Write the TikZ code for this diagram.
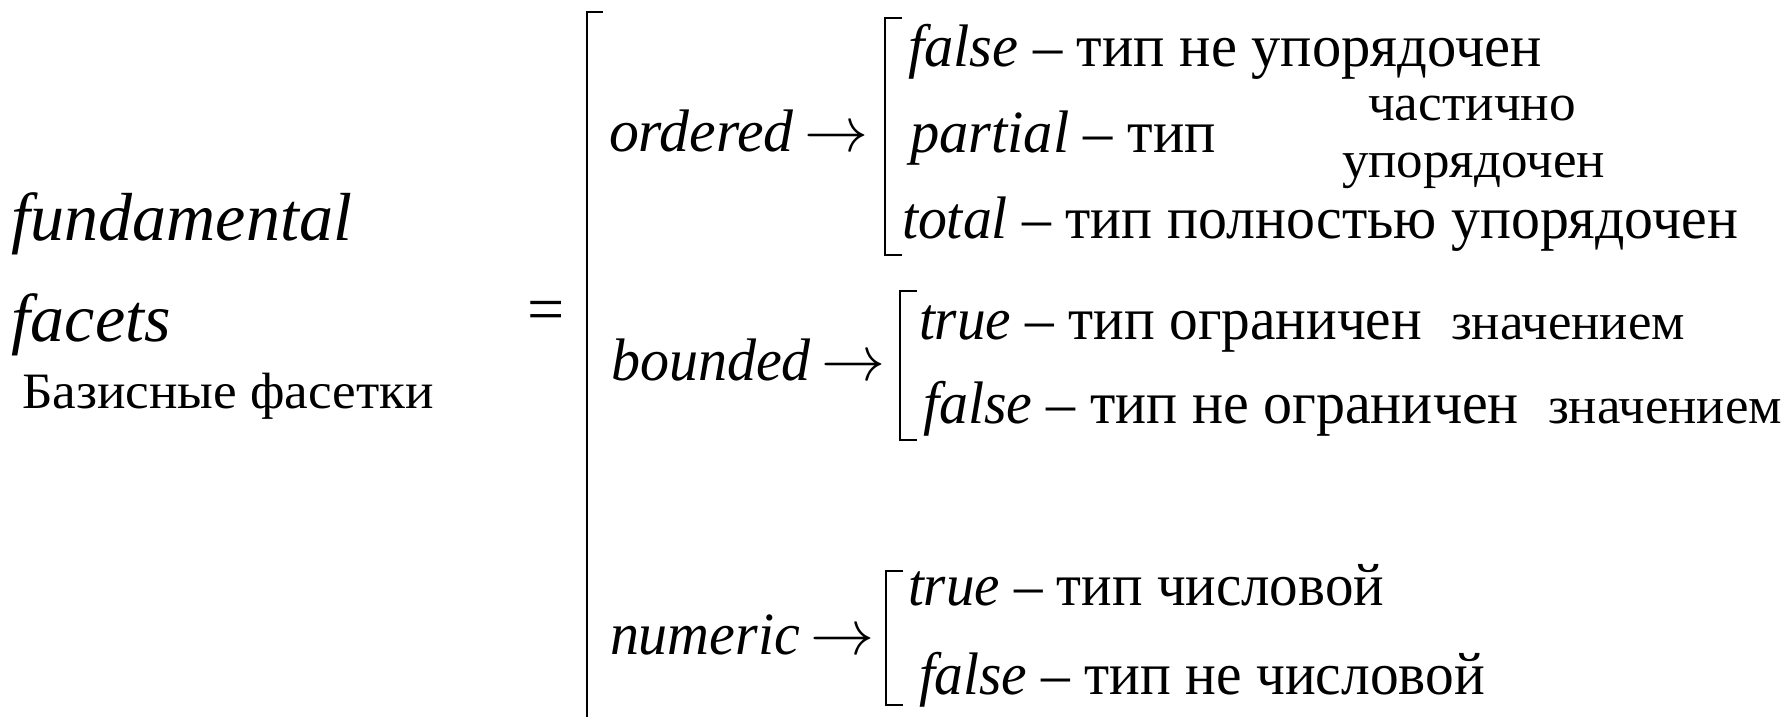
\documentclass[tikz,border=0pt]{standalone}
\usepackage{fontspec}
\setmainfont{Liberation Serif}[ItalicFont={Liberation Serif Italic}]
\usepackage{graphicx}
\newcommand{\fitw}[2]{\resizebox{#1pt}{\height}{#2}}
\newcommand{\arr}{\resizebox{64pt}{!}{$\rightarrow$}}
\begin{document}
\begin{tikzpicture}[x=1pt,y=-1pt,
  txt/.style={anchor=base west, inner sep=0pt, outer sep=0pt},
  bigit/.style={txt, font=\fontsize{68}{80}\selectfont\itshape},
  lefttx/.style={txt, font=\fontsize{51}{60}\selectfont},
  midtx/.style={txt, font=\fontsize{60}{70}\selectfont},
  righttx/.style={txt, font=\fontsize{60}{70}\selectfont},
  smalltx/.style={txt, font=\fontsize{52}{60}\selectfont},
  brk/.style={line width=2.8pt, line cap=butt, line join=miter}]
\useasboundingbox (0,0) rectangle (1791,716);
% left side
\node[bigit] (fund) at (12,240) {fundamental};
\node[bigit] (fac) at (12,341) {facets};
\node[lefttx] (baz) at (22,408) {\fitw{412}{Базисные фасетки}};
\node[anchor=center, inner sep=0pt, font=\fontsize{66}{70}\selectfont] (eq) at (546,316) {=};
% big bracket
\coordinate (BT) at (587,12);
\draw[brk] (603,12) -- (BT) -- (587,720);
% middle keys
\node[midtx] (ord) at (609,151) {\fitw{185}{\textit{ordered}}\hspace{10pt}\arr};
\node[midtx] (bnd) at (611,380) {\fitw{200}{\textit{bounded}}\hspace{10pt}\arr};
\node[midtx] (num) at (610,654) {\fitw{190}{\textit{numeric}}\hspace{10pt}\arr};
% sub brackets
\draw[brk] (902,18) -- (885,18) -- (885,255) -- (902,255);
\draw[brk] (917,291) -- (900,291) -- (900,440) -- (917,440);
\draw[brk] (903,571) -- (886,571) -- (886,705) -- (903,705);
% ordered group
\node[righttx] (o1) at (908,66) {\fitw{634}{\textit{false} – тип не упорядочен}};
\node[righttx] (o2) at (910,152) {\fitw{306}{\textit{partial} – тип}};
\node[smalltx] (o2a) at (1368,120) {\fitw{208}{частично}};
\node[smalltx] (o2b) at (1342,177) {\fitw{263}{упорядочен}};
\node[righttx] (o3) at (902,238) {\fitw{836}{\textit{total} – тип полностью упорядочен}};
% bounded group
\node[righttx] (b1) at (919,339) {\fitw{503}{\textit{true} – тип ограничен}};
\node[smalltx] (b1a) at (1451,339) {\fitw{234}{значением}};
\node[righttx] (b2) at (923,423) {\fitw{596}{\textit{false} – тип не ограничен}};
\node[smalltx] (b2a) at (1548,423) {\fitw{234}{значением}};
% numeric group
\node[righttx] (n1) at (908,605) {\fitw{476}{\textit{true} – тип числовой}};
\node[righttx] (n2) at (919,694) {\fitw{566}{\textit{false} – тип не числовой}};
\end{tikzpicture}
\end{document}
